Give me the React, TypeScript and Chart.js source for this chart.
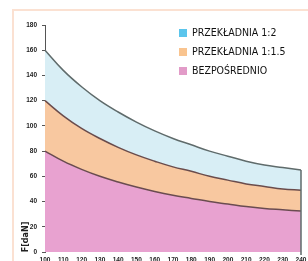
import React, { useEffect, useRef } from "react";
import { Chart, registerables } from "chart.js";

Chart.register(...registerables);

const categories = ["100", "110", "120", "130", "140", "150", "160", "170", "180", "190", "200", "210", "220", "230", "240"];
const seriesLabels = ["BEZPOŚREDNIO", "PRZEKŁADNIA 1:1.5", "PRZEKŁADNIA 1:2"];
const direct = [80, 72, 65.5, 60, 55.5, 51.5, 48, 45, 42.5, 40, 38, 36, 34.5, 33.5, 32.5];
const ratio15 = [120, 108, 98, 90, 83, 77, 72, 67.5, 64, 60, 57, 54, 52, 50, 49];
const ratio2 = [160, 144, 131, 120, 111, 103, 96, 90, 85, 80, 76, 72, 69, 67, 65];
const yTicks = [0, 20, 40, 60, 80, 100, 120, 140, 160, 180];
const yTitle = "F[daN]";

const legendColors = ["#e29bc8", "#f9c48f", "#5bc5ec"];
const fillColors = ["#e8a2d0", "#f8c8a0", "#d8eef5"];
const lineColors = ["#6a4c50", "#6a4c4c", "#5f6b6b"];

export default function App() {
  const ref = useRef<HTMLCanvasElement>(null);
  useEffect(() => {
    const canvas = ref.current!;
    const decor = {
      id: "decor",
      beforeDraw(chart: any) {
        const ctx = chart.ctx;
        ctx.save();
        ctx.fillStyle = "#ffffff";
        ctx.fillRect(0, 0, chart.width, chart.height);
        ctx.strokeStyle = "#fbe1d2";
        ctx.lineWidth = 2;
        ctx.strokeRect(13, 10, 400, 400);
        ctx.restore();
      },
      afterDraw(chart: any) {
        const ctx = chart.ctx;
        const x = chart.scales.x;
        const y = chart.scales.y;
        ctx.save();
        const lastIdx = categories.length - 1;
        ctx.strokeStyle = "#5f6b6b";
        ctx.lineWidth = 1.5;
        ctx.beginPath();
        ctx.moveTo(x.getPixelForValue(lastIdx), y.getPixelForValue(ratio2[lastIdx]));
        ctx.lineTo(x.getPixelForValue(lastIdx), y.getPixelForValue(0) + 3);
        ctx.stroke();
        const order = [2, 1, 0];
        ctx.font = "10.5px 'Liberation Sans Narrow', 'DejaVu Sans Condensed', sans-serif";
        ctx.textBaseline = "middle";
        order.forEach((di, k) => {
          const cy = 33 + k * 19;
          ctx.fillStyle = legendColors[di];
          ctx.fillRect(179, cy - 4, 8, 8);
          ctx.fillStyle = "#111";
          ctx.fillText(seriesLabels[di], 192, cy + 0.5);
        });
        ctx.translate(26, 237);
        ctx.rotate(-Math.PI / 2);
        ctx.font = "bold 8px 'DejaVu Sans', sans-serif";
        ctx.textAlign = "center";
        ctx.fillStyle = "#222";
        ctx.fillText(yTitle, 0, 0);
        ctx.restore();
      },
    };
    const chart = new Chart(canvas, {
      type: "line",
      data: {
        labels: categories,
        datasets: [
          { label: seriesLabels[0], data: direct, fill: "origin", backgroundColor: fillColors[0], borderColor: lineColors[0], borderWidth: 1.5, pointRadius: 0, tension: 0.4 },
          { label: seriesLabels[1], data: ratio15, fill: "-1", backgroundColor: fillColors[1], borderColor: lineColors[1], borderWidth: 1.5, pointRadius: 0, tension: 0.4 },
          { label: seriesLabels[2], data: ratio2, fill: "-1", backgroundColor: fillColors[2], borderColor: lineColors[2], borderWidth: 1.5, pointRadius: 0, tension: 0.4 },
        ],
      },
      options: {
        animation: false,
        responsive: false,
        devicePixelRatio: 1,
        layout: { padding: { left: 0, top: 25, right: 7, bottom: 0 } },
        plugins: { legend: { display: false }, tooltip: { enabled: false } },
        scales: {
          x: {
            offset: false,
            grid: { display: true, drawOnChartArea: false, drawTicks: false, tickLength: 0, color: "rgba(0,0,0,0)" },
            border: { display: false },
            ticks: { color: "#222", font: { size: 6.5, weight: "bold" }, padding: 4, maxRotation: 0, minRotation: 0, autoSkip: false },
            afterFit(s: any) { s.height = 14; s.paddingLeft = 0; s.paddingRight = 0; },
          },
          y: {
            min: 0,
            max: 180,
            afterBuildTicks(s: any) { s.ticks = yTicks.map((v) => ({ value: v })); },
            grid: { drawOnChartArea: false, drawTicks: true, tickLength: 3, color: "#555" },
            border: { display: true, color: "#555", width: 1 },
            ticks: { color: "#222", font: { size: 6.5, weight: "bold" }, padding: 5 },
            afterFit(s: any) { s.width = 45; },
          },
        },
      },
      plugins: [decor],
    });
    return () => chart.destroy();
  }, []);
  return (
    <div style={{ position: "fixed", left: 0, top: 0, width: 308, height: 266 }}>
      <canvas ref={ref} width={308} height={266} style={{ width: 308, height: 266, display: "block" }} />
    </div>
  );
}
